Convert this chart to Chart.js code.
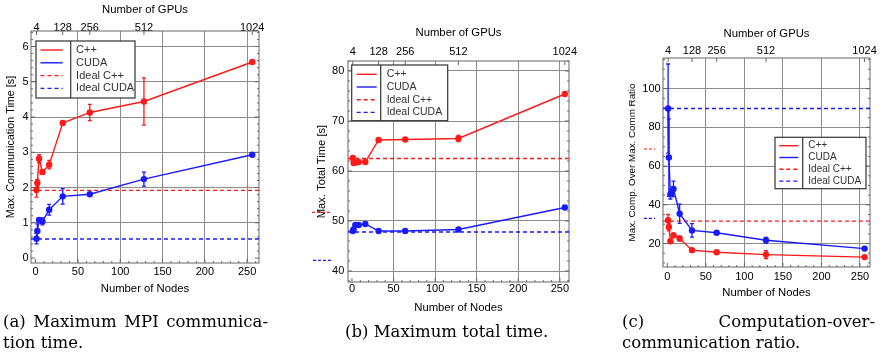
<!DOCTYPE html>
<html>
<head>
<meta charset="utf-8">
<script src="https://cdn.jsdelivr.net/npm/chart.js@4.4.0/dist/chart.umd.min.js"></script>
<style>
  html, body { margin: 0; padding: 0; background: #fff; width: 891px; height: 352px; overflow: hidden; }
  .panel { position: absolute; top: 0; }
  .panel canvas { display: block; }
  .cap { position: absolute; font-family: "DejaVu Serif", serif; font-size: 16.5px; line-height: 21px; color: #000; white-space: nowrap; }
  .j { text-align: justify; text-align-last: justify; white-space: normal; }
</style>
</head>
<body>
<div class="panel" style="left:0px"><canvas id="chartA" width="290" height="320"></canvas></div>
<div class="panel" style="left:300px"><canvas id="chartB" width="290" height="320"></canvas></div>
<div class="panel" style="left:600px"><canvas id="chartC" width="291" height="320"></canvas></div>

<div class="cap" style="left:3px; top:311px; width:265px;">
  <div class="j">(a) Maximum MPI communica-</div>
  <div>tion time.</div>
</div>
<div class="cap" style="left:345px; top:321px;">(b) Maximum total time.</div>
<div class="cap" style="left:622px; top:311px; width:253px;">
  <div class="j">(c) Computation-over-</div>
  <div>communication ratio.</div>
</div>

<script>
// shared axes
const nodes = [1, 2, 4, 8, 16, 32, 64, 128, 256];
const nodeTicks = [0, 50, 100, 150, 200, 250];
const gpuTickNodes = [1, 32, 64, 128, 256];
const gpuTickLabels = ["4", "128", "256", "512", "1024"];
const seriesLabels = ["C++", "CUDA", "Ideal C++", "Ideal CUDA"];

// (a) max communication time [s]
const commCpp = [1.93, 2.13, 2.82, 2.44, 2.65, 3.83, 4.13, 4.44, 5.56];
const commCppErr = [0.2, 0.1, 0.11, 0.05, 0.12, 0.03, 0.23, 0.67, 0.02];
const commCuda = [0.55, 0.77, 1.08, 1.04, 1.37, 1.75, 1.81, 2.24, 2.93];
const commCudaErr = [0.15, 0.2, 0.05, 0.1, 0.15, 0.22, 0.03, 0.2, 0.02];
const commIdeal = [1.92, 0.54];
const commTicks = [0, 1, 2, 3, 4, 5, 6];

// (b) max total time [s]
const totalCpp = [62.6, 61.6, 61.7, 61.8, 61.8, 66.2, 66.3, 66.5, 75.4];
const totalCppErr = [0.2, 0.15, 0.1, 0.1, 0.1, 0.1, 0.1, 0.6, 0.1];
const totalCuda = [48.0, 48.3, 49.2, 49.2, 49.4, 48.0, 48.0, 48.3, 52.7];
const totalCudaErr = [0.2, 0.15, 0.1, 0.1, 0.1, 0.1, 0.1, 0.15, 0.1];
const totalIdeal = [62.5, 47.8];
const totalTicks = [40, 50, 60, 70, 80];

// (c) computation over communication ratio
const ratioCpp = [32.0, 28.6, 21.2, 24.3, 22.6, 16.6, 15.5, 14.3, 13.0];
const ratioCppErr = [3, 2, 1, 0.8, 1.2, 0.5, 0.5, 2, 0.3];
const ratioCuda = [89.7, 64.4, 45.5, 48.2, 35.4, 26.8, 25.6, 21.7, 17.4];
const ratioCudaErr = [23, 20, 2.5, 4, 5, 3.5, 0.8, 1.5, 0.4];
const ratioIdeal = [31.6, 89.7];
const ratioTicks = [20, 40, 60, 80, 100];

const RED = "#ff1a1a";
const BLUE = "#1a1aff";
const GRID = "#8c8c8c";

Chart.defaults.font.family = "'Liberation Sans', Arial, sans-serif";
Chart.defaults.font.size = 11;
Chart.defaults.color = "#000";

// vertical error bars with small caps
const errorBars = {
  id: "errorBars",
  afterDatasetsDraw(chart) {
    const { ctx, scales: { x, y } } = chart;
    chart.data.datasets.forEach((ds) => {
      if (!ds.errors) return;
      ctx.save();
      ctx.strokeStyle = ds.borderColor;
      ctx.lineWidth = 1.3;
      ctx.beginPath();
      ds.data.forEach((pt, j) => {
        const e = ds.errors[j];
        const px = x.getPixelForValue(pt.x);
        const top = y.getPixelForValue(pt.y + e);
        const bot = y.getPixelForValue(pt.y - e);
        ctx.moveTo(px, top); ctx.lineTo(px, bot);
        ctx.moveTo(px - 2, top); ctx.lineTo(px + 2, top);
        ctx.moveTo(px - 2, bot); ctx.lineTo(px + 2, bot);
      });
      ctx.stroke();
      ctx.restore();
    });
  }
};

// frame round the plot with minor ticks
const frame = {
  id: "frame",
  beforeDatasetsDraw(chart, args, o) {
    const { ctx, chartArea: a, scales } = chart;
    const xs = scales.x, ys = scales.y;
    ctx.save();
    ctx.strokeStyle = "#666";
    ctx.lineWidth = 1;
    ctx.strokeRect(a.left, a.top, a.right - a.left, a.bottom - a.top);
    ctx.beginPath();
    for (let k = Math.ceil(xs.min / 10); k * 10 <= xs.max; k++) {
      const px = xs.getPixelForValue(k * 10);
      const len = k % 5 === 0 ? 4 : 2;
      ctx.moveTo(px, a.bottom); ctx.lineTo(px, a.bottom - len);
    }
    const per = Math.round(o.yMajor / o.yMinor);
    for (let k = Math.ceil(ys.min / o.yMinor); k * o.yMinor <= ys.max; k++) {
      const py = ys.getPixelForValue(k * o.yMinor);
      const len = k % per === 0 ? 4 : 2;
      ctx.moveTo(a.left, py); ctx.lineTo(a.left + len, py);
      ctx.moveTo(a.right, py); ctx.lineTo(a.right - len, py);
    }
    gpuTickNodes.forEach((n) => {
      const px = xs.getPixelForValue(n);
      ctx.moveTo(px, a.top); ctx.lineTo(px, a.top + 4);
    });
    ctx.stroke();
    ctx.restore();
  }
};

// boxed legend with a divider between samples and labels
const boxLegend = {
  id: "boxLegend",
  afterDraw(chart, args, o) {
    const { ctx, chartArea: a } = chart;
    const bx = a.left + o.dx, by = a.top + o.dy;
    ctx.save();
    ctx.fillStyle = "#fff";
    ctx.fillRect(bx, by, o.w, o.h);
    ctx.strokeStyle = "#333";
    ctx.lineWidth = 1.2;
    ctx.strokeRect(bx, by, o.w, o.h);
    ctx.beginPath();
    ctx.moveTo(bx + o.div, by); ctx.lineTo(bx + o.div, by + o.h);
    ctx.stroke();
    ctx.font = o.font + "px 'Liberation Sans', Arial, sans-serif";
    ctx.textBaseline = "middle";
    chart.data.datasets.forEach((ds, i) => {
      const ry = by + o.row0 + i * o.gap;
      ctx.strokeStyle = ds.borderColor;
      ctx.lineWidth = 1.4;
      ctx.setLineDash(ds.borderDash || []);
      ctx.beginPath();
      ctx.moveTo(bx + o.s0, ry); ctx.lineTo(bx + o.s1, ry);
      ctx.stroke();
      ctx.setLineDash([]);
      ctx.fillStyle = "#333";
      ctx.fillText(ds.label, bx + o.div + o.tx, ry);
    });
    ctx.restore();
  }
};

// short stray dashes left of the y title
const strays = {
  id: "strays",
  afterDraw(chart, args, o) {
    const ctx = chart.ctx;
    ctx.save();
    ctx.lineWidth = 1.2;
    ctx.setLineDash([3, 2]);
    (o.marks || []).forEach((m) => {
      ctx.strokeStyle = m.c;
      ctx.beginPath();
      ctx.moveTo(m.x0, m.y); ctx.lineTo(m.x1, m.y);
      ctx.stroke();
    });
    ctx.restore();
  }
};

function series(vals, label, color, errs) {
  return {
    label: label,
    data: nodes.map((n, i) => ({ x: n, y: vals[i] })),
    errors: errs,
    borderColor: color,
    backgroundColor: color,
    borderWidth: 1.4,
    pointRadius: 3.2,
    pointBorderWidth: 0,
    showLine: true,
    tension: 0
  };
}

function ideal(val, label, color, xr) {
  return {
    label: label,
    data: [{ x: xr[0], y: val }, { x: xr[1], y: val }],
    borderColor: color,
    backgroundColor: color,
    borderWidth: 1.4,
    borderDash: [4, 3],
    pointRadius: 0,
    showLine: true
  };
}

function makePanel(id, p) {
  const noZero = (c) => (c.tick && c.tick.value === 0 ? "rgba(0,0,0,0)" : GRID);
  new Chart(document.getElementById(id), {
    type: "scatter",
    data: {
      datasets: [
        series(p.cpp, seriesLabels[0], RED, p.cppErr),
        series(p.cuda, seriesLabels[1], BLUE, p.cudaErr),
        ideal(p.ideal[0], seriesLabels[2], RED, p.xr),
        ideal(p.ideal[1], seriesLabels[3], BLUE, p.xr)
      ]
    },
    options: {
      responsive: false,
      animation: false,
      layout: { padding: { left: 0, right: p.padRight, top: 0, bottom: 0 } },
      scales: {
        x: {
          type: "linear", position: "bottom", min: p.xr[0], max: p.xr[1],
          afterBuildTicks: (s) => { s.ticks = nodeTicks.map((v) => ({ value: v })); },
          afterFit: (s) => { s.height = p.bottomH; },
          ticks: { padding: p.xTickPad, maxRotation: 0, autoSkip: false },
          grid: { color: noZero, lineWidth: 1, drawTicks: false },
          border: { display: false },
          title: { display: true, text: "Number of Nodes", font: { size: 11.3 }, padding: { top: 0, bottom: p.xTitlePad } }
        },
        x2: {
          type: "linear", position: "top", min: p.xr[0], max: p.xr[1],
          afterBuildTicks: (s) => { s.ticks = gpuTickNodes.map((v) => ({ value: v })); },
          afterFit: (s) => { s.height = p.topH; },
          ticks: { padding: p.topTickPad, maxRotation: 0, autoSkip: false, callback: (v, i) => gpuTickLabels[i] },
          grid: { display: false, drawTicks: false },
          border: { display: false },
          title: { display: true, text: "Number of GPUs", font: { size: 11.3 }, padding: { top: p.topTitlePad, bottom: 0 } }
        },
        y: {
          type: "linear", position: "left", min: p.yr[0], max: p.yr[1],
          afterBuildTicks: (s) => { s.ticks = p.yTicks.map((v) => ({ value: v })); },
          afterFit: (s) => { s.width = p.leftW; },
          ticks: { padding: p.yTickPad },
          grid: { color: noZero, lineWidth: 1, drawTicks: false },
          border: { display: false },
          title: { display: true, text: p.yTitle, font: { size: p.yTitleSize }, padding: { top: p.yTitlePad, bottom: 0 } }
        }
      },
      plugins: {
        legend: { display: false },
        tooltip: { enabled: false },
        frame: { yMajor: p.yMajor, yMinor: p.yMinor },
        boxLegend: p.legend,
        strays: { marks: p.strays || [] }
      }
    },
    plugins: [frame, errorBars, boxLegend, strays]
  });
}

makePanel("chartA", {
  cpp: commCpp, cppErr: commCppErr, cuda: commCuda, cudaErr: commCudaErr, ideal: commIdeal,
  yTicks: commTicks, yMajor: 1, yMinor: 0.2,
  xr: [-5.5, 264], yr: [-0.14, 6.44],
  yTitle: "Max. Communication Time [s]", yTitleSize: 10.8,
  leftW: 31, topH: 31, bottomH: 57, padRight: 31,
  yTitlePad: 4.5, yTickPad: 2.3, xTickPad: 2, xTitlePad: 24, topTickPad: -3.9, topTitlePad: 3.4,
  legend: { dx: 5, dy: 10, w: 99, h: 57, div: 34.7, row0: 9, gap: 12.8, s0: 4.5, s1: 26.7, tx: 5.4, font: 11 }
});

makePanel("chartB", {
  cpp: totalCpp, cppErr: totalCppErr, cuda: totalCuda, cudaErr: totalCudaErr, ideal: totalIdeal,
  yTicks: totalTicks, yMajor: 10, yMinor: 2,
  xr: [-4.8, 261], yr: [37.8, 82],
  yTitle: "Max. Total Time [s]", yTitleSize: 11.2,
  leftW: 48, topH: 61, bottomH: 38, padRight: 21,
  yTitlePad: 14.9, yTickPad: 3.7, xTickPad: 0.7, xTitlePad: 5.2, topTickPad: 2.2, topTitlePad: 26.5,
  legend: { dx: 3.7, dy: 4, w: 96, h: 55.7, div: 29, row0: 9.3, gap: 12.7, s0: 5, s1: 25, tx: 6, font: 10.5 },
  strays: [{ x0: 12, x1: 32, y: 212.3, c: RED }, { x0: 13, x1: 32, y: 260.3, c: BLUE }]
});

makePanel("chartC", {
  cpp: ratioCpp, cppErr: ratioCppErr, cuda: ratioCuda, cudaErr: ratioCudaErr, ideal: ratioIdeal,
  yTicks: ratioTicks, yMajor: 20, yMinor: 5,
  xr: [-5.6, 263], yr: [7.9, 115.8],
  yTitle: "Max. Comp. Over Max. Comm Ratio", yTitleSize: 9.8,
  leftW: 63, topH: 58, bottomH: 53, padRight: 21,
  yTitlePad: 26.6, yTickPad: 2.3, xTickPad: 3.6, xTitlePad: 20.7, topTickPad: 0.6, topTitlePad: 27.5,
  legend: { dx: 112, dy: 79.3, w: 91, h: 51.4, div: 27.7, row0: 8.4, gap: 11.8, s0: 4.3, s1: 23.3, tx: 5.6, font: 10 },
  strays: [{ x0: 44, x1: 55, y: 149, c: RED }, { x0: 44, x1: 55, y: 218.3, c: BLUE }]
});
</script>
</body>
</html>
